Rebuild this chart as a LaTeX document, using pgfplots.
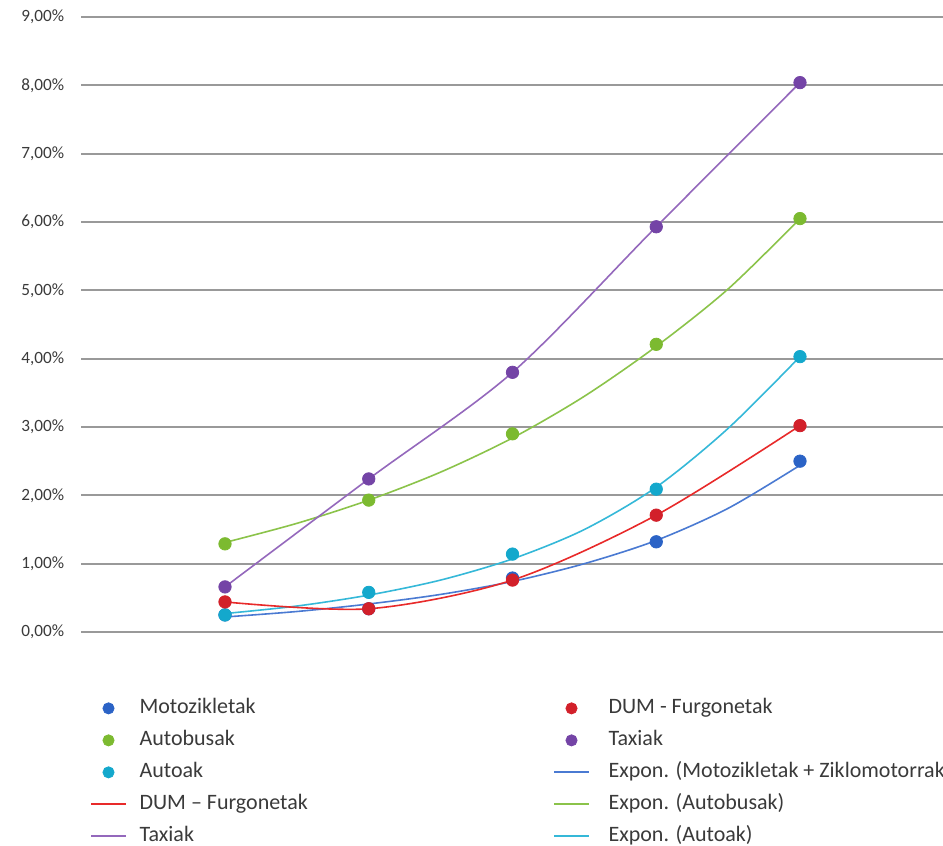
\documentclass[border=0pt]{standalone}
\usepackage{pgfplots}
\pgfplotsset{compat=1.18}
\usepackage{fontspec}
\setmainfont{Carlito}

\definecolor{motodot}{HTML}{2B63C6}
\definecolor{motoline}{HTML}{4A7AD2}
\definecolor{busdot}{HTML}{7CBA30}
\definecolor{busline}{HTML}{8BC34A}
\definecolor{autodot}{HTML}{14A8CC}
\definecolor{autoline}{HTML}{35B8D8}
\definecolor{dumdot}{HTML}{D2202A}
\definecolor{dumline}{HTML}{E82A2A}
\definecolor{taxidot}{HTML}{7444A6}
\definecolor{taxiline}{HTML}{9468BC}
\definecolor{txt}{HTML}{3A3A3A}

% measured points (x = category 1..5, y in %)
\pgfplotstableread{
x y
1 0.25
2 0.34
3 0.79
4 1.32
5 2.50
}\moto
\pgfplotstableread{
x y
1 1.29
2 1.93
3 2.90
4 4.21
5 6.05
}\bus
\pgfplotstableread{
x y
1 0.25
2 0.58
3 1.14
4 2.09
5 4.03
}\auto
\pgfplotstableread{
x y
1 0.44
2 0.34
3 0.76
4 1.71
5 3.02
}\dum
\pgfplotstableread{
x y
1 0.66
2 2.24
3 3.80
4 5.93
5 8.04
}\taxi

\pgfplotsset{
  legbox/.style={
    legend style={draw=none, fill=none, inner sep=0pt, anchor=north west,
      font=\fontsize{11}{13}\selectfont, text=txt,
      row sep=0pt,
      nodes={text height=8pt, text depth=2.5pt, inner ysep=2.75pt, inner xsep=#1}},
    legend cell align=left,
  },
  dot/.style={only marks, mark=*, mark size=3.1pt},
}

\begin{document}
\begin{tikzpicture}
\begin{axis}[
  scale only axis, width=431.25pt, height=307.5pt,
  xmin=0, xmax=6, ymin=0, ymax=9,
  axis line style={draw=none},
  xtick=\empty,
  ytick={0,1,...,9},
  ymajorgrids, grid style={black!40, line width=1pt},
  major tick length=0pt,
  /pgf/number format/assume math mode=true,
  yticklabel={\pgfmathprintnumber[fixed,fixed zerofill,precision=2,use comma]{\tick}\%},
  yticklabel style={font=\fontsize{8.6}{10}\selectfont, text=txt, xshift=-5pt},
  clip=false,
  legbox=6.5pt,
  legend style={at={(axis description cs:0.0102,-0.0975)}},
]
% exponential trend lines
\addplot[motoline, line width=0.8pt, smooth, forget plot] coordinates {
  (1,0.22) (1.5,0.30) (2,0.41) (2.5,0.55) (3,0.74) (3.5,1.00) (4,1.34) (4.5,1.81) (5,2.44)};
\addplot[busline, line width=0.8pt, smooth, forget plot] coordinates {
  (1,1.31) (1.5,1.59) (2,1.93) (2.5,2.34) (3,2.84) (3.5,3.45) (4,4.18) (4.5,5.02) (5,6.05)};
\addplot[autoline, line width=0.8pt, smooth, forget plot] coordinates {
  (1,0.27) (1.5,0.38) (2,0.54) (2.5,0.76) (3,1.07) (3.5,1.50) (4,2.12) (4.5,2.98) (5,4.03)};
% smoothed lines
\addplot[dumline, line width=0.8pt, smooth, forget plot] table {\dum};
\addplot[taxiline, line width=0.8pt, smooth, forget plot] table {\taxi};
% points
\addplot[dot, motodot, forget plot] table {\moto};
\addplot[dot, busdot, forget plot] table {\bus};
\addplot[dot, autodot, forget plot] table {\auto};
\addplot[dot, dumdot, forget plot] table {\dum};
\addplot[dot, taxidot, forget plot] table {\taxi};

\addlegendimage{only marks, mark=*, mark size=2.8pt, motodot}
\addlegendentry{Motozikletak}
\addlegendimage{only marks, mark=*, mark size=2.8pt, busdot}
\addlegendentry{Autobusak}
\addlegendimage{only marks, mark=*, mark size=2.8pt, autodot}
\addlegendentry{Autoak}
\addlegendimage{line legend, dumline, line width=1pt}
\addlegendentry{DUM – Furgonetak}
\addlegendimage{line legend, taxiline, line width=1pt}
\addlegendentry{Taxiak}
\end{axis}

\begin{axis}[
  scale only axis, width=431.25pt, height=307.5pt,
  xmin=0, xmax=6, ymin=0, ymax=9,
  hide axis,
  legbox=9.5pt,
  legend style={at={(axis description cs:0.547,-0.0975)}},
]
\addlegendimage{only marks, mark=*, mark size=2.8pt, dumdot}
\addlegendentry{DUM - Furgonetak}
\addlegendimage{only marks, mark=*, mark size=2.8pt, taxidot}
\addlegendentry{Taxiak}
\addlegendimage{line legend, motoline, line width=1pt}
\addlegendentry{Expon. (Motozikletak + Ziklomotorrak)}
\addlegendimage{line legend, busline, line width=1pt}
\addlegendentry{Expon. (Autobusak)}
\addlegendimage{line legend, autoline, line width=1pt}
\addlegendentry{Expon. (Autoak)}
\end{axis}

\pgfresetboundingbox
\useasboundingbox (-40.625pt,-107pt) rectangle (430.875pt,316pt);
\end{tikzpicture}
\end{document}
